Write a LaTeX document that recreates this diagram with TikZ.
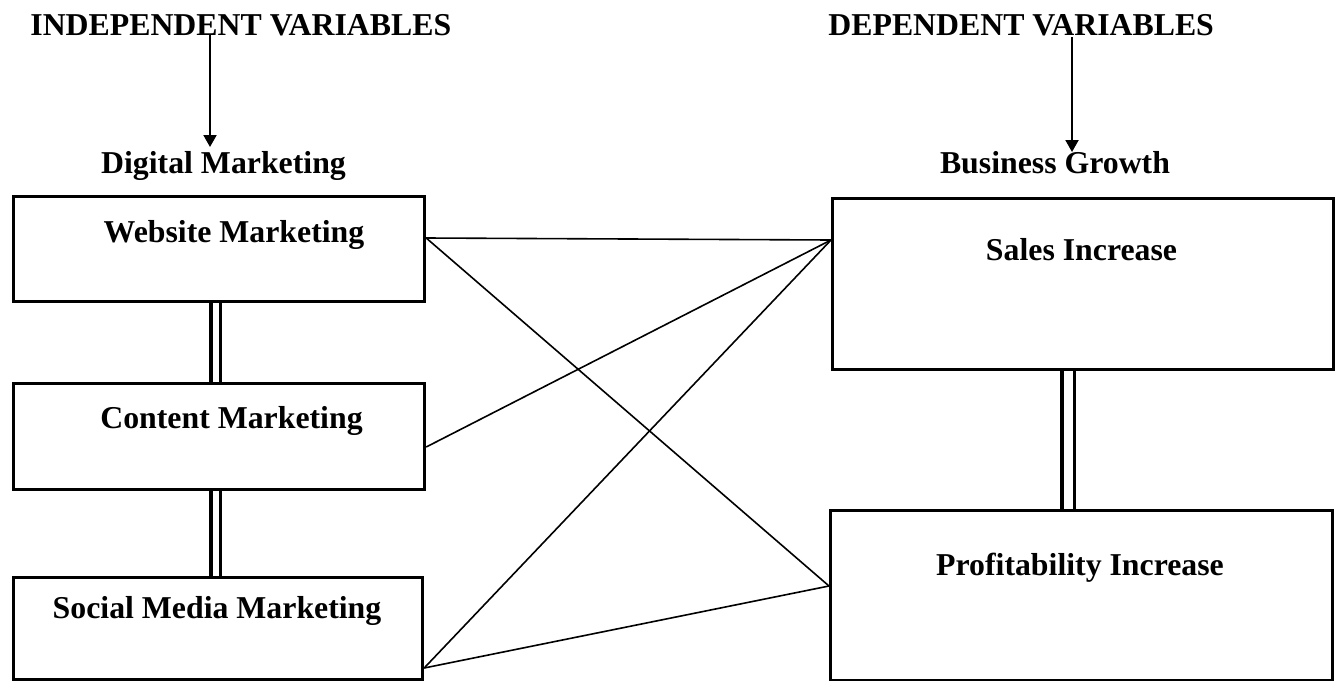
\documentclass[tikz,border=0pt]{standalone}
\usepackage{fontspec}
\setmainfont{Liberation Serif}
\usetikzlibrary{arrows.meta,positioning}

\tikzset{
  box/.style={draw, line width=1.6pt, rectangle, anchor=north west, inner sep=0pt},
  lbl/.style={font=\fontsize{15.9}{19}\selectfont\bfseries, anchor=base, inner sep=0pt},
  link/.style={line width=0.8pt},
  dbl/.style={double, line width=1.7pt, double distance=2.9pt},
  dblr/.style={double, line width=1.7pt, double distance=4.6pt},
  arr/.style={line width=1pt, -{Triangle[length=6pt,width=6.5pt]}}
}

\begin{document}
\begin{tikzpicture}[x=0.5pt, y=-0.5pt]
\useasboundingbox (0,0) rectangle (1338,680);

% Headings
\node[lbl, anchor=base west] (indep) at (30,35) {INDEPENDENT VARIABLES};
\node[lbl, anchor=base west] (dep) at (828,35) {DEPENDENT VARIABLES};
\node[lbl] (digital) at (223.5,173) {Digital Marketing};
\node[lbl] (growth) at (1055,173) {Business Growth};
\coordinate (ia) at (210,35);
\coordinate (ib) at (210,147);
\coordinate (da) at (1072,37);
\coordinate (db) at (1072,152);
\draw[arr] (ia) -- (ib);
\draw[arr] (da) -- (db);

% Independent side
\node[box, minimum width=205.5pt, minimum height=52.5pt] (web) at (12,195) {};
\node[box, minimum width=205.5pt, minimum height=53pt] (content) at (12,382) {};
\node[box, minimum width=204.5pt, minimum height=51pt] (social) at (12,576) {};
\node[lbl] at (234,242) {Website Marketing};
\node[lbl] at (231.5,428) {Content Marketing};
\node[lbl] at (217,618) {Social Media Marketing};
\draw[dbl] ([xshift=-1.75pt]web.south) -- ([xshift=-1.75pt]web.south |- content.north);
\draw[dbl] ([xshift=-1.75pt]content.south) -- ([xshift=-1.75pt]content.south |- social.north);

% Dependent side
\node[box, minimum width=250.5pt, minimum height=85.5pt] (sales) at (831,197) {};
\node[box, minimum width=251pt, minimum height=85pt] (profit) at (829,509) {};
\node[lbl] at (1081.5,260) {Sales Increase};
\node[lbl] at (1080,575) {Profitability Increase};
\draw[dblr] ([xshift=-7.5pt]sales.south) -- ([xshift=-7.5pt]sales.south |- profit.north);

% Links
\draw[link] ([yshift=-21.5pt]web.north east) -- ([yshift=-21.5pt]sales.north west);
\draw[link] ([yshift=-21.5pt]web.north east) -- ([yshift=-38.5pt]profit.north west);
\draw[link] ([yshift=-32.5pt]content.north east) -- ([yshift=-21.5pt]sales.north west);
\draw[link] ([yshift=-46pt]social.north east) -- ([yshift=-21.5pt]sales.north west);
\draw[link] ([yshift=-46pt]social.north east) -- ([yshift=-38.5pt]profit.north west);
\end{tikzpicture}
\end{document}
